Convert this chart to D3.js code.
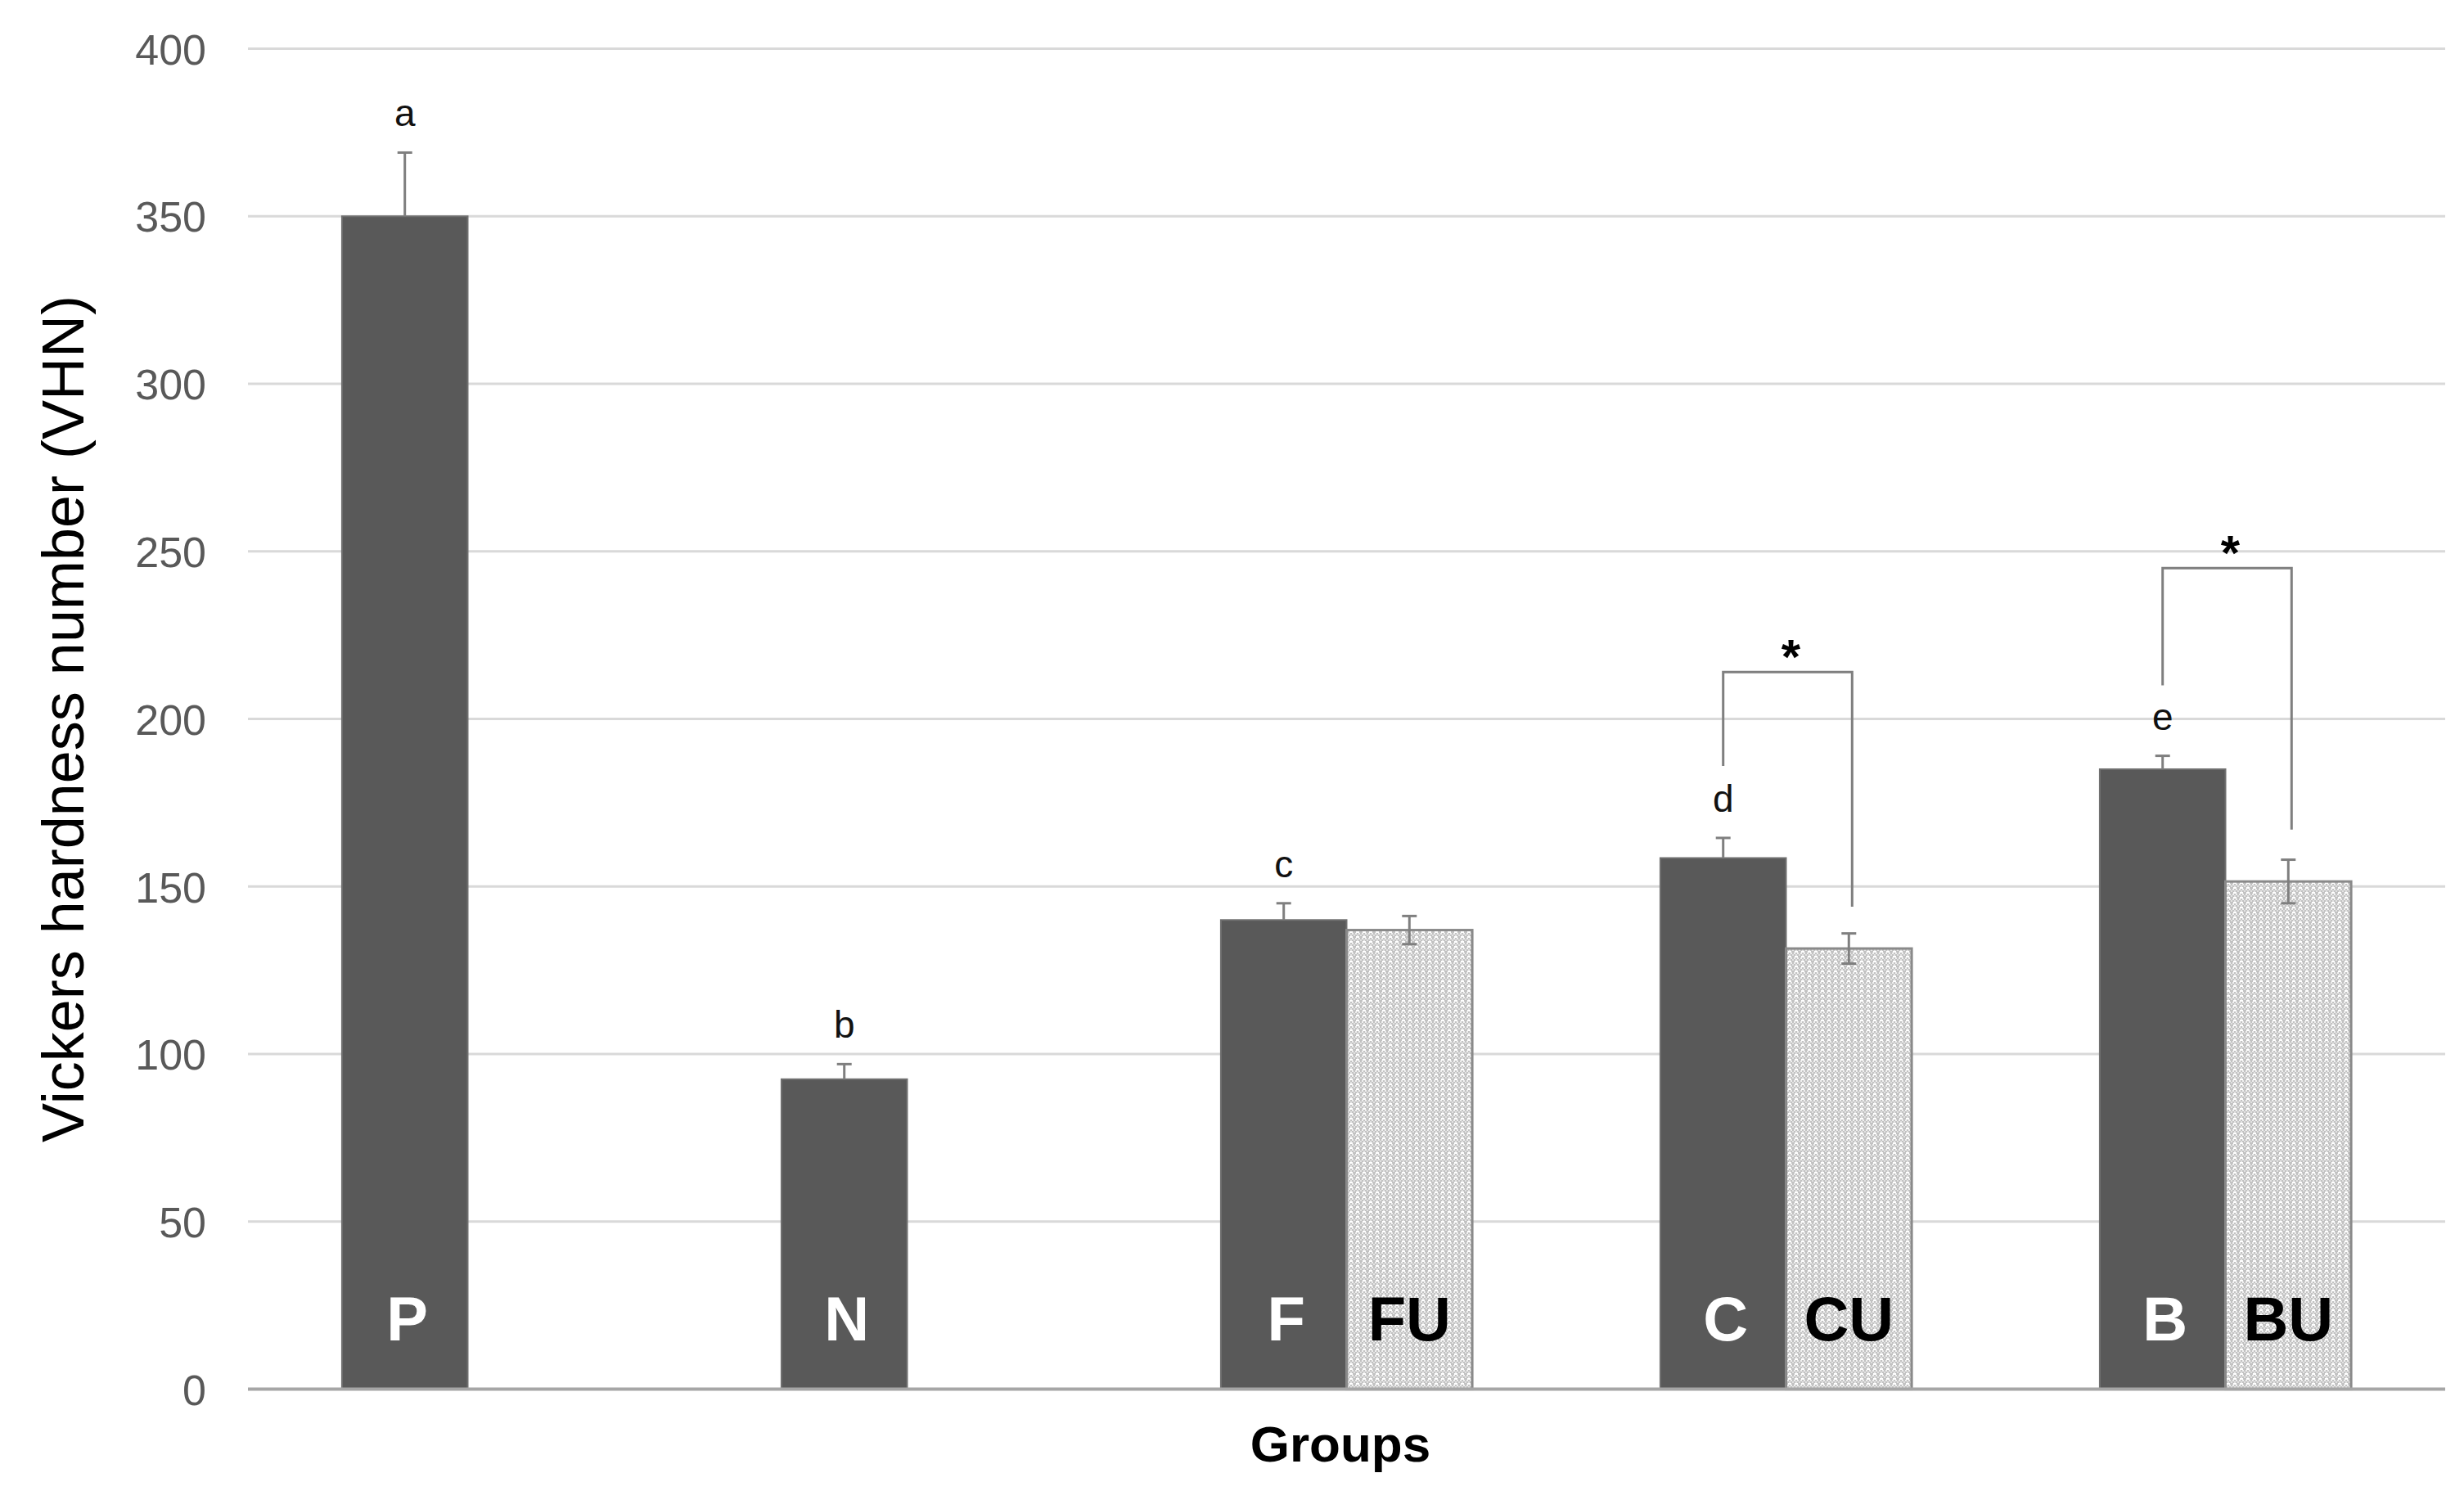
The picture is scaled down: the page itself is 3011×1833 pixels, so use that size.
<!DOCTYPE html>
<html>
<head>
<meta charset="utf-8">
<script src="https://cdn.jsdelivr.net/npm/d3@7/dist/d3.min.js"></script>
<style>
  html, body { margin: 0; padding: 0; background: #fff; }
  svg { display: block; font-family: "Liberation Sans", Arial, sans-serif; }
</style>
</head>
<body>
<svg id="chart" width="3011" height="1833"></svg>
<script>
// ---- data ----
const categories = ["P", "N", "F", "C", "B"];
const series = ["untreated", "treated"];
const darkValues = [350, 92.5, 140, 158.5, 185];
const darkErrors = [19, 4.5, 5, 6, 4];
const hatchValues = [null, null, 137, 131.5, 151.5];
const hatchErrors = [null, null, 4.2, 4.5, 6.5];
const darkLabels = ["P", "N", "F", "C", "B"];
const hatchLabels = [null, null, "FU", "CU", "BU"];
const letterLabels = ["a", "b", "c", "d", "e"];
const yTicks = [0, 50, 100, 150, 200, 250, 300, 350, 400];
// significance brackets (category index, top, left-end, right-end values)
const bracketCats = [3, 4];
const bracketTop = [214, 245];
const bracketLeftEnd = [186, 210];
const bracketRightEnd = [144, 167];
const yTitle = "Vickers hardness number (VHN)";
const xTitle = "Groups";

// ---- layout ----
const svg = d3.select("#chart");
const plotLeft = 303, plotRight = 2988, plotTop = 59.5, plotBottom = 1697.6;

const y = d3.scaleLinear().domain([0, 400]).range([plotBottom, plotTop]);
const x0 = d3.scaleBand().domain(categories).range([plotLeft, plotRight]).padding(0);
const step = x0.step();
const groupW = step * 0.572;
const x1 = d3.scaleBand().domain(series)
  .range([(step - groupW) / 2, (step + groupW) / 2]).padding(0);

// pattern for hatched bars
const defs = svg.append("defs");
const pat = defs.append("pattern").attr("id", "dots")
  .attr("patternUnits", "userSpaceOnUse").attr("width", 8).attr("height", 6);
pat.append("rect").attr("width", 8).attr("height", 6).attr("fill", "#c2c2c2");
pat.append("rect").attr("x", 0).attr("y", 0).attr("width", 2).attr("height", 2).attr("fill", "#efefef");
pat.append("rect").attr("x", 4).attr("y", 0).attr("width", 2).attr("height", 2).attr("fill", "#efefef");
pat.append("rect").attr("x", 2).attr("y", 2).attr("width", 2).attr("height", 2).attr("fill", "#e2e2e2");
pat.append("rect").attr("x", 6).attr("y", 2).attr("width", 2).attr("height", 2).attr("fill", "#e2e2e2");
pat.append("rect").attr("x", 1).attr("y", 4).attr("width", 4).attr("height", 2).attr("fill", "#ffffff");

// gridlines
svg.append("g").selectAll("line").data(yTicks.filter(d => d > 0)).join("line")
  .attr("x1", plotLeft).attr("x2", plotRight)
  .attr("y1", d => y(d)).attr("y2", d => y(d))
  .attr("stroke", "#d9d9d9").attr("stroke-width", 3);

// y axis labels
const yAxis = d3.axisLeft(y).tickValues(yTicks).tickSize(0).tickPadding(0);
const gy = svg.append("g").attr("transform", `translate(${plotLeft - 51},0)`).call(yAxis);
gy.select(".domain").remove();
gy.selectAll("text").attr("font-size", 52).attr("fill", "#595959")
  .attr("font-family", "'Liberation Sans', Arial, sans-serif").attr("dy", "0.36em");

// bars
const darkData = categories.map((c, i) => ({c, i, v: darkValues[i], e: darkErrors[i], lab: darkLabels[i]}));
const hatchData = categories.map((c, i) => ({c, i, v: hatchValues[i], e: hatchErrors[i], lab: hatchLabels[i]})).filter(d => d.v != null);

const bw = x1.bandwidth();
svg.append("g").selectAll("rect").data(darkData).join("rect")
  .attr("x", d => x0(d.c) + x1("untreated"))
  .attr("y", d => y(d.v))
  .attr("width", bw)
  .attr("height", d => y(0) - y(d.v))
  .attr("fill", "#595959").attr("stroke", "#707070").attr("stroke-width", 2);

svg.append("g").selectAll("rect").data(hatchData).join("rect")
  .attr("x", d => x0(d.c) + x1("treated"))
  .attr("y", d => y(d.v))
  .attr("width", bw)
  .attr("height", d => y(0) - y(d.v))
  .attr("fill", "url(#dots)").attr("stroke", "#8a8a8a").attr("stroke-width", 3);

// x axis baseline
svg.append("line").attr("x1", plotLeft).attr("x2", plotRight)
  .attr("y1", y(0)).attr("y2", y(0))
  .attr("stroke", "#a6a6a6").attr("stroke-width", 4);

// error bars
const capW = 18;
const eg = svg.append("g").attr("stroke", "#7f7f7f").attr("stroke-width", 3);
darkData.forEach(d => {
  const cx = x0(d.c) + x1("untreated") + bw / 2;
  eg.append("line").attr("x1", cx).attr("x2", cx).attr("y1", y(d.v)).attr("y2", y(d.v + d.e));
  eg.append("line").attr("x1", cx - capW / 2).attr("x2", cx + capW / 2).attr("y1", y(d.v + d.e)).attr("y2", y(d.v + d.e));
});
hatchData.forEach(d => {
  const cx = x0(d.c) + x1("treated") + bw / 2;
  eg.append("line").attr("x1", cx).attr("x2", cx).attr("y1", y(d.v - d.e)).attr("y2", y(d.v + d.e));
  [d.v - d.e, d.v + d.e].forEach(v =>
    eg.append("line").attr("x1", cx - capW / 2).attr("x2", cx + capW / 2).attr("y1", y(v)).attr("y2", y(v)));
});

// letter labels above dark bars
svg.append("g").selectAll("text").data(darkData).join("text")
  .attr("x", d => x0(d.c) + x1("untreated") + bw / 2)
  .attr("y", d => y(d.v + d.e) - 32)
  .attr("text-anchor", "middle").attr("font-size", 46).attr("fill", "#111")
  .text(d => letterLabels[d.i]);

// bar name labels
svg.append("g").selectAll("text").data(darkData).join("text")
  .attr("x", d => x0(d.c) + x1("untreated") + bw / 2 + 3)
  .attr("y", y(0) - 60)
  .attr("text-anchor", "middle").attr("font-size", 76).attr("font-weight", "bold").attr("fill", "#fff")
  .text(d => d.lab);
svg.append("g").selectAll("text").data(hatchData).join("text")
  .attr("x", d => x0(d.c) + x1("treated") + bw / 2)
  .attr("y", y(0) - 60)
  .attr("text-anchor", "middle").attr("font-size", 76).attr("font-weight", "bold").attr("fill", "#000")
  .text(d => d.lab);

// significance brackets
const bg = svg.append("g");
bracketCats.forEach((ci, k) => {
  const c = categories[ci];
  const xl = x0(c) + x1("untreated") + bw / 2;
  const xr = x0(c) + x1("treated") + bw / 2 + 4;
  bg.append("path")
    .attr("d", `M${xl},${y(bracketLeftEnd[k])}V${y(bracketTop[k])}H${xr}V${y(bracketRightEnd[k])}`)
    .attr("fill", "none").attr("stroke", "#7f7f7f").attr("stroke-width", 3);
  bg.append("text").attr("x", (xl + xr) / 2 + 4).attr("y", y(bracketTop[k]) + 2)
    .attr("text-anchor", "middle").attr("font-size", 60).attr("font-weight", "bold").attr("fill", "#000")
    .text("*");
});

// axis titles
svg.append("text").attr("transform", `translate(102,${(plotTop + plotBottom) / 2}) rotate(-90)`)
  .attr("text-anchor", "middle").attr("font-size", 72).attr("fill", "#000")
  .text(yTitle);
svg.append("text").attr("x", 1638).attr("y", 1786)
  .attr("text-anchor", "middle").attr("font-size", 62).attr("font-weight", "bold").attr("fill", "#000")
  .text(xTitle);
</script>
</body>
</html>
